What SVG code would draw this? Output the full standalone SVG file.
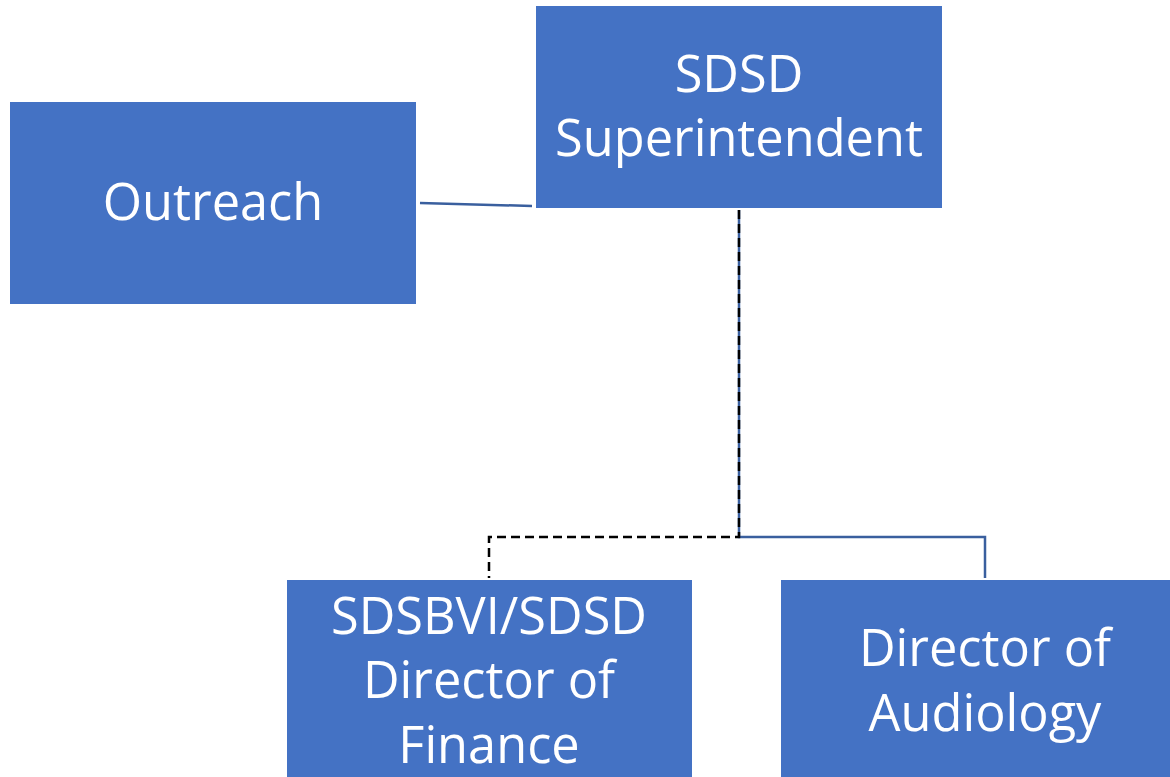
<svg xmlns="http://www.w3.org/2000/svg" width="1170" height="777" viewBox="0 0 1170 777">
<style>
.box{fill:#4472C4}
.t{fill:#fff;font-family:"Open Sans","Noto Sans",sans-serif;font-size:50.5px;text-anchor:middle}
.blue{stroke:#3A5F9E;stroke-width:2.5;fill:none}
.dash{stroke:#000;stroke-width:2.5;fill:none;stroke-dasharray:9,5}
</style>
<rect width="1170" height="777" fill="#fff"/>
<g id="connectors">
<path class="blue" d="M420,203 L532,206"/>
<path class="blue" d="M739,210 V537 H985 V578"/>
<path class="dash" d="M739,210 V537 H489 V578"/>
</g>
<g id="superintendent"><rect class="box" x="536" y="6" width="406" height="202"/><text class="t" x="739" y="92">SDSD</text><text class="t" x="739" y="156">Superintendent</text></g>
<g id="outreach"><rect class="box" x="10" y="102" width="406" height="202"/><text class="t" x="213" y="220">Outreach</text></g>
<g id="finance"><rect class="box" x="287" y="580" width="405" height="197"/><text class="t" x="489" y="634">SDSBVI/SDSD</text><text class="t" x="489" y="698">Director of</text><text class="t" x="489" y="763">Finance</text></g>
<g id="audiology"><rect class="box" x="781" y="580" width="389" height="197"/><text class="t" x="985" y="666">Director of</text><text class="t" x="985" y="731">Audiology</text></g>
</svg>
